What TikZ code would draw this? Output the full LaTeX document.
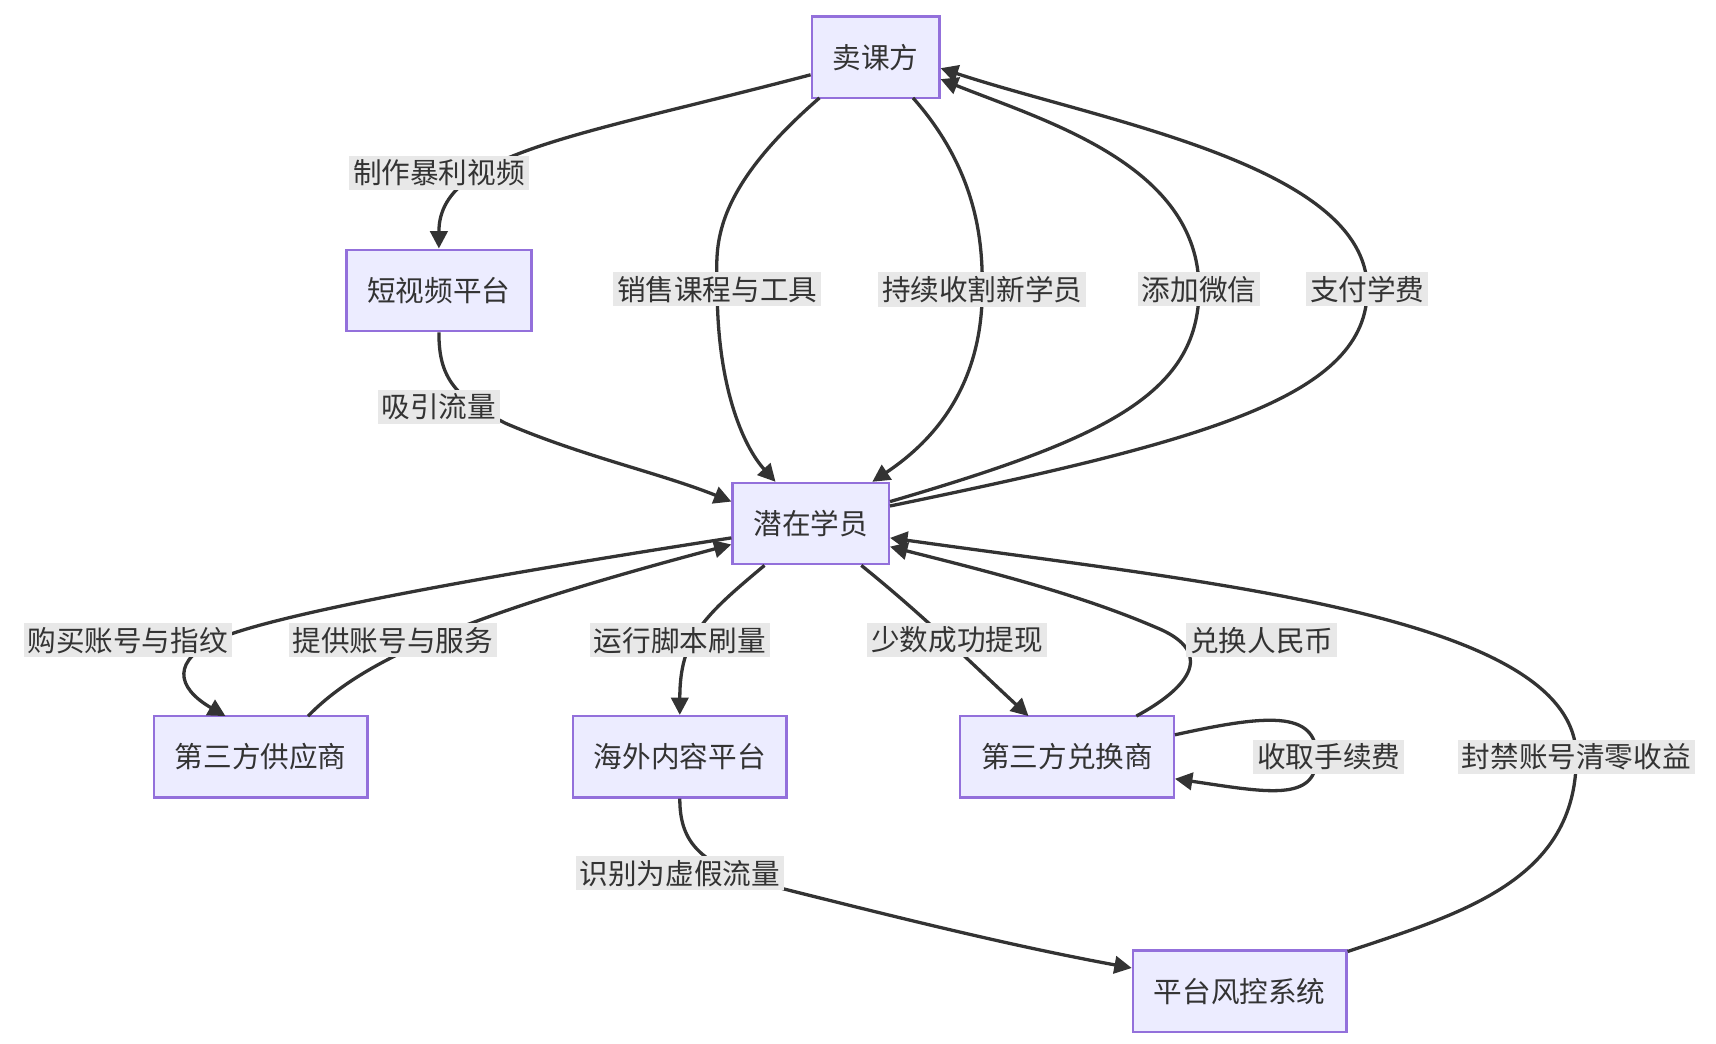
\documentclass[tikz,border=0pt]{standalone}
\usepackage{fontspec}
\setmainfont{Noto Sans CJK SC}
\usetikzlibrary{arrows.meta}
\definecolor{boxfill}{HTML}{ECECFF}
\definecolor{boxline}{HTML}{9370DB}
\definecolor{ink}{HTML}{333333}
\definecolor{lblfill}{HTML}{E8E8E8}
\tikzset{
  box/.style={draw=boxline, fill=boxfill, line width=0.6pt, minimum height=0.74cm,
    inner xsep=0.19cm, text=ink, font=\fontsize{7.4}{9}\selectfont},
  lbl/.style={fill=lblfill, inner sep=1pt, text=ink, font=\fontsize{7.4}{9}\selectfont},
  arr/.style={draw=ink, line width=0.85pt, -{Triangle[length=4.5pt,width=4.5pt]}}
}
\begin{document}
\begin{tikzpicture}[x=0.01cm, y=-0.01cm]
        \useasboundingbox (0,0) rectangle (1560,949);
        % Knoten
        \node[box] (sk)  at (796,52)  {卖课方};
        \node[box] (dsp) at (399,264) {短视频平台};
        \node[box] (qz)  at (737,476) {潜在学员};
        \node[box] (gys) at (237,688) {第三方供应商};
        \node[box] (hw)  at (618,688) {海外内容平台};
        \node[box] (dh)  at (970,688) {第三方兑换商};
        \node[box] (fk)  at (1127,901) {平台风控系统};

        % Verbindungen
        \draw[arr] (sk.west |- 0,68) .. controls (520,125) and (399,140) .. (dsp.north);
        \draw[arr] (745,89) .. controls (640,180) and (652,230) .. (652,263)
                   .. controls (652,350) and (675,405) .. (705,438);
        \draw[arr] (830,89) .. controls (893,160) and (893,230) .. (893,263)
                   .. controls (893,350) and (850,400) .. (793,438);
        \draw[arr] (qz.east |- 0,456) .. controls (1000,400) and (1090,360) .. (1090,263)
                   .. controls (1090,150) and (950,110) .. (sk.east |- 0,72);
        \draw[arr] (qz.east |- 0,460) .. controls (1100,400) and (1243,360) .. (1243,263)
                   .. controls (1243,150) and (1000,110) .. (sk.east |- 0,62);
        \draw[arr] (dsp.south) .. controls (399,340) and (410,360) .. (460,385)
                   .. controls (530,415) and (600,430) .. (qz.west |- 0,456);
        \draw[arr] (qz.west |- 0,489) .. controls (400,530) and (250,560) .. (200,580)
                   .. controls (155,600) and (160,625) .. (205,651);
        \draw[arr] (280,651) .. controls (330,600) and (420,560) .. (qz.west |- 0,495);
        \draw[arr] (695,514) .. controls (640,560) and (618,580) .. (hw.north);
        \draw[arr] (783,514) .. controls (840,560) and (880,600) .. (935,651);
        \draw[arr] (1033,651) .. controls (1090,620) and (1100,590) .. (1050,570)
                   .. controls (980,540) and (900,520) .. (qz.east |- 0,497);
        \draw[arr] (dh.east |- 0,668) .. controls (1150,650) and (1197,645) .. (1197,688)
                   .. controls (1197,730) and (1150,720) .. (dh.east |- 0,708);
        \draw[arr] (hw.south) .. controls (618,770) and (640,790) .. (720,810)
                   .. controls (820,835) and (920,860) .. (fk.west |- 0,880);
        \draw[arr] (fk.east |- 0,865) .. controls (1330,830) and (1433,800) .. (1433,688)
                   .. controls (1433,560) and (1100,530) .. (qz.east |- 0,489);

        % Beschriftungen
        \node[lbl] (l1)  at (399,157)  {制作暴利视频};
        \node[lbl] (l2)  at (652,263)  {销售课程与工具};
        \node[lbl] (l3)  at (893,263)  {持续收割新学员};
        \node[lbl] (l4)  at (1090,263) {添加微信};
        \node[lbl] (l5)  at (1243,263) {支付学费};
        \node[lbl] (l6)  at (399,370)  {吸引流量};
        \node[lbl] (l7)  at (116,582)  {购买账号与指纹};
        \node[lbl] (l8)  at (357,582)  {提供账号与服务};
        \node[lbl] (l9)  at (618,582)  {运行脚本刷量};
        \node[lbl] (l10) at (870,582)  {少数成功提现};
        \node[lbl] (l11) at (1147,582) {兑换人民币};
        \node[lbl] (l12) at (1208,688) {收取手续费};
        \node[lbl] (l13) at (618,794)  {识别为虚假流量};
        \node[lbl] (l14) at (1433,688) {封禁账号清零收益};
\end{tikzpicture}
\end{document}
